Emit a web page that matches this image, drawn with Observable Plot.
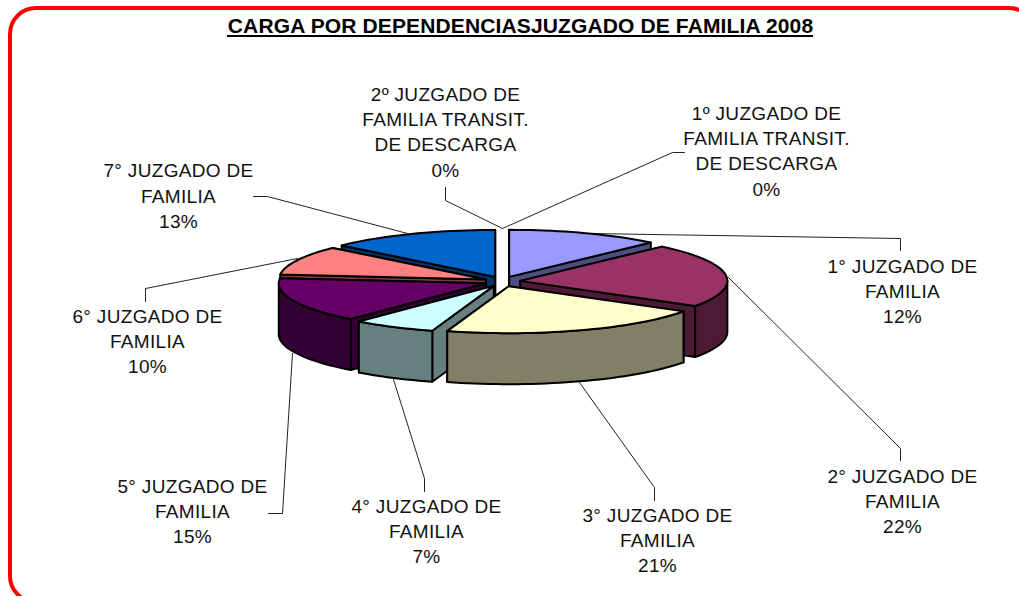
<!DOCTYPE html>
<html>
<head>
<meta charset="utf-8">
<script src="https://cdn.jsdelivr.net/npm/d3@7"></script>
<script src="https://cdn.jsdelivr.net/npm/@observablehq/plot@0.6"></script>
<style>
html,body{margin:0;padding:0;background:#fff;overflow:hidden}
svg{display:block}
</style>
</head>
<body>
<div id="chart"></div>
<script>
const titleText = "CARGA POR DEPENDENCIASJUZGADO DE FAMILIA 2008";
const categories = ["1° JUZGADO DE\nFAMILIA","2° JUZGADO DE\nFAMILIA","3° JUZGADO DE\nFAMILIA","4° JUZGADO DE\nFAMILIA","5° JUZGADO DE\nFAMILIA","6° JUZGADO DE\nFAMILIA","7° JUZGADO DE\nFAMILIA"];
const values = [12, 22, 20.8, 6.5, 15.4, 10, 13.3];
const percentLabels = ["12%","22%","21%","7%","15%","10%","13%"];
const colors = ["#9999FF","#993366","#FFFFCC","#CCFFFF","#660066","#FF8080","#0066CC"];
const zeroCategories = ["1º JUZGADO DE\nFAMILIA TRANSIT.\nDE DESCARGA\n0%","2º JUZGADO DE\nFAMILIA TRANSIT.\nDE DESCARGA\n0%"];

// layout of the oblique pie on the page
const pie = {cx:502, cy:281, rx:207, ry:47, ex:18, ey:5, depth:51};
const labelX = [902,902,657,426,192,147,178];
const labelY = [289.5,499.5,538.5,529.5,509.5,339.5,194];
const zeroX = [766,445];
const zeroY = [149,130];
const leaders = [
  [[590,233],[900,238],[900,250]],
  [[728,277],[900,448],[900,460]],
  [[579,382],[654,487],[654,500]],
  [[393,379],[424,478],[424,491]],
  [[292,353],[282,513],[268,513]],
  [[297,258],[145,288],[145,301]],
  [[407,233],[267,196],[253,196]],
  [[502,228],[672,152],[684,152]],
  [[502,228],[445,200],[445,187]]
];

const total = d3.sum(values);
const rad = d => d * Math.PI / 180;
let acc = 0;
const slices = values.map((v,i) => {
  const t0 = acc / total * 360; acc += v;
  const t1 = acc / total * 360;
  const mid = rad((t0+t1)/2);
  const c = d3.rgb(colors[i]);
  return {i, t0, t1, mid,
    ax: pie.cx + pie.ex*Math.sin(mid),
    ay: pie.cy - pie.ey*Math.cos(mid),
    color: colors[i],
    dark: d3.rgb(c.r*0.5, c.g*0.5, c.b*0.5).formatHex()};
});
const rim = (s,t,d=0) => [s.ax + pie.rx*Math.sin(rad(t)), s.ay - pie.ry*Math.cos(rad(t)) + d];
const arc = (s,a,b,d=0) => {
  const n = Math.max(2, Math.ceil(Math.abs(b-a)/2));
  return d3.range(n+1).map(k => rim(s, a + (b-a)*k/n, d));
};
const wall = (s,t) => [[s.ax,s.ay], rim(s,t), rim(s,t,pie.depth), [s.ax,s.ay+pie.depth]];

const polygons = [];
d3.sort(slices, s => -Math.cos(s.mid)).forEach(s => {
  const w0 = {pts: wall(s,s.t0), front: Math.cos(rad(s.t0-90)) < 0};
  const w1 = {pts: wall(s,s.t1), front: Math.cos(rad(s.t1+90)) < 0};
  [w0,w1].filter(w => !w.front).forEach(w => polygons.push({pts:w.pts, fill:s.dark}));
  [w0,w1].filter(w => w.front).forEach(w => polygons.push({pts:w.pts, fill:s.dark}));
  const a = Math.max(s.t0,90), b = Math.min(s.t1,270);
  if (a < b) polygons.push({pts:[...arc(s,a,b), ...arc(s,b,a,pie.depth)], fill:s.dark});
  polygons.push({pts:[[s.ax,s.ay], ...arc(s,s.t0,s.t1)], fill:s.color});
});

const labelRows = categories.map((c,i) => ({text:c+"\n"+percentLabels[i], x:labelX[i], y:labelY[i]}))
  .concat(zeroCategories.map((c,i) => ({text:c, x:zeroX[i], y:zeroY[i]})));

const font = "'Liberation Sans', Arial, sans-serif";
const chart = Plot.plot({
  width:1019, height:596, margin:0,
  x:{domain:[0,1019], range:[0,1019], axis:null},
  y:{domain:[0,596], range:[0,596], axis:null},
  style:{fontFamily:font, background:"#fff"},
  marks:[
    Plot.rect([{x1:10,x2:1035,y1:8,y2:602}], {x1:"x1",x2:"x2",y1:"y1",y2:"y2",fill:"#fff",stroke:"#ff0000",strokeWidth:4,rx:26}),
    ...leaders.map(l => Plot.line(l, {x:d=>d[0], y:d=>d[1], stroke:"#222", strokeWidth:1})),
    ...polygons.map(p => Plot.line(p.pts, {x:d=>d[0], y:d=>d[1], fill:p.fill, stroke:"#000", strokeWidth:2, curve:"linear-closed"})),
    Plot.text(labelRows, {x:"x", y:"y", text:"text", fontSize:19, lineHeight:1.335, fill:"#111", lineAnchor:"middle", textAnchor:"middle"}),
    Plot.text([titleText], {x:()=>520, y:()=>25.5, text:d=>d, fontSize:21, fontWeight:"bold", fill:"#000", textAnchor:"middle", lineAnchor:"middle"}),
    Plot.ruleY([35.5], {x1:227, x2:813, stroke:"#000", strokeWidth:2})
  ]
});
const textGroups = chart.querySelectorAll('g[aria-label="text"]');
textGroups[0].style.letterSpacing = "0.33px";
textGroups[1].style.letterSpacing = "0.13px";
document.getElementById("chart").append(chart);
</script>
</body>
</html>
